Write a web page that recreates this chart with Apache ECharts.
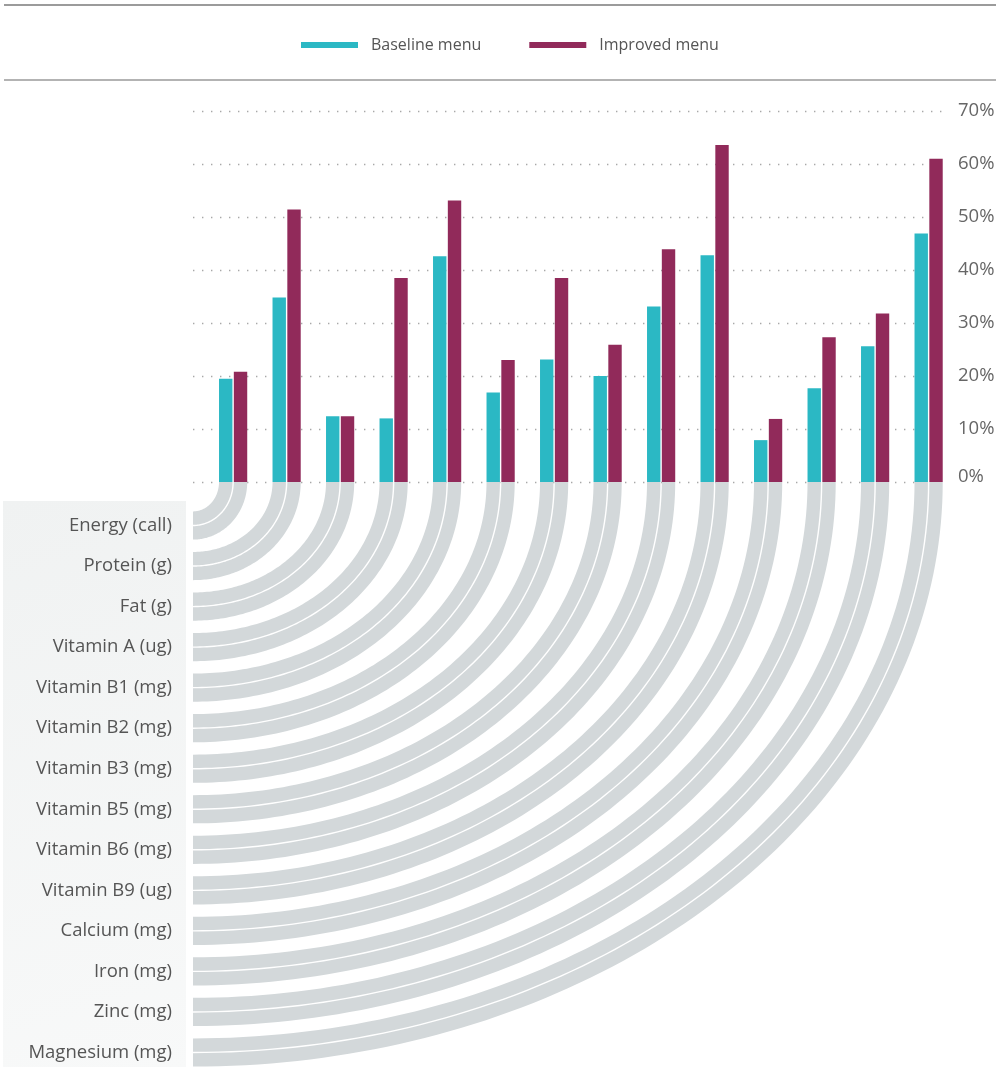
<!DOCTYPE html>
<html>
<head>
<meta charset="utf-8">
<title>Nutrient adequacy: baseline vs improved menu</title>
<script src="https://cdn.jsdelivr.net/npm/echarts@6/dist/echarts.min.js"></script>
<style>
  html, body { margin: 0; padding: 0; background: #ffffff; }
  #chart { width: 1000px; height: 1067px; }
</style>
</head>
<body>
<div id="chart"></div>
<script>
// ---- data -------------------------------------------------------------
const nutrients = [
  'Energy (call)', 'Protein (g)', 'Fat (g)', 'Vitamin A (ug)', 'Vitamin B1 (mg)',
  'Vitamin B2 (mg)', 'Vitamin B3 (mg)', 'Vitamin B5 (mg)', 'Vitamin B6 (mg)',
  'Vitamin B9 (ug)', 'Calcium (mg)', 'Iron (mg)', 'Zinc (mg)', 'Magnesium (mg)'
];
const baselineMenu = [19.5, 34.8, 12.4, 12.0, 42.6, 16.9, 23.1, 20.0, 33.1, 42.8, 7.9, 17.7, 25.6, 46.9];
const improvedMenu = [20.8, 51.4, 12.4, 38.5, 53.1, 23.0, 38.5, 25.9, 43.9, 63.6, 11.9, 27.3, 31.8, 61.0];
const seriesNames = ['Baseline menu', 'Improved menu'];
const percentMin = 0;
const percentMax = 70;
const percentStep = 10;

// ---- style / layout ---------------------------------------------------
const FONT = '"Open Sans", "Noto Sans", sans-serif';
const TEAL = '#2bb8c4';
const PLUM = '#912a5a';
const LINK_GREY = '#d3d8da';
const PLOT_LEFT = 193;
const PLOT_RIGHT = 58;            // distance from right edge of the canvas
const PLOT_TOP = 111;
const PLOT_HEIGHT = 371;
const BAND = (1000 - PLOT_LEFT - PLOT_RIGHT) / nutrients.length;
const BAR_W = 13.4;
const BAR_GAP = 1.4;

const chart = echarts.init(document.getElementById('chart'), null, { renderer: 'canvas' });

const baseOption = {
  animation: false,
  backgroundColor: '#ffffff',
  textStyle: { fontFamily: FONT },
  legend: {
    data: seriesNames,
    left: 296,
    top: 32,
    icon: 'rect',
    itemWidth: 57,
    itemHeight: 6,
    itemGap: 48,
    textStyle: { fontFamily: FONT, fontSize: 16, color: '#555555', padding: [0, 0, 0, 8] }
  },
  graphic: [
    { type: 'line', z: 0, shape: { x1: 4, y1: 5, x2: 996, y2: 5 }, style: { stroke: '#7a7a7a', lineWidth: 1.6 } },
    { type: 'line', z: 0, shape: { x1: 4, y1: 80, x2: 996, y2: 80 }, style: { stroke: '#9a9a9a', lineWidth: 1.6 } },
    {
      type: 'rect', z: -10, silent: true,
      shape: { x: 3, y: 501, width: 183, height: 570 },
      style: {
        fill: new echarts.graphic.LinearGradient(0, 0, 1, 1, [
          { offset: 0, color: '#f0f2f2' },
          { offset: 1, color: '#f8f9f9' }
        ])
      }
    }
  ],
  grid: [
    // frame: percentage scale with dotted guides
    { left: PLOT_LEFT, right: PLOT_RIGHT, top: PLOT_TOP, height: PLOT_HEIGHT },
    // bars: each pair sits in the right half of its column
    { left: PLOT_LEFT + BAND / 4, right: PLOT_RIGHT - BAND / 4, top: PLOT_TOP, height: PLOT_HEIGHT },
    // nutrient rows below the chart
    { left: PLOT_LEFT, right: PLOT_RIGHT, top: 525.5, height: 527 }
  ],
  xAxis: [
    { gridIndex: 0, type: 'value', min: 0, max: 1, show: false },
    { gridIndex: 1, type: 'category', data: nutrients, show: false },
    { gridIndex: 2, type: 'value', min: 0, max: 1, show: false }
  ],
  yAxis: [
    {
      gridIndex: 0, type: 'value', position: 'right',
      min: percentMin, max: percentMax, interval: percentStep,
      axisLine: { show: false }, axisTick: { show: false },
      splitLine: { show: true, lineStyle: { color: '#a8a8a8', width: 1.4, type: [1.4, 7.6] } },
      axisLabel: {
        margin: 16, fontFamily: FONT, fontSize: 18.5, color: '#666666',
        formatter: v => (v === 0 ? '{zero|0%}' : v + '%'),
        rich: { zero: { fontFamily: FONT, fontSize: 18.5, color: '#666666', padding: [0, 0, 10, 0] } }
      }
    },
    { gridIndex: 1, type: 'value', min: percentMin, max: percentMax, interval: percentStep, show: false },
    {
      gridIndex: 2, type: 'category', data: nutrients, inverse: true, boundaryGap: false,
      axisLine: { show: false }, axisTick: { show: false }, splitLine: { show: false },
      axisLabel: { margin: 21, fontFamily: FONT, fontSize: 18.5, color: '#555555' }
    }
  ],
  series: [
    {
      name: seriesNames[0], type: 'bar', xAxisIndex: 1, yAxisIndex: 1,
      data: baselineMenu, barWidth: BAR_W, barGap: (BAR_GAP / BAR_W * 100) + '%',
      itemStyle: { color: TEAL }, z: 3
    },
    {
      name: seriesNames[1], type: 'bar', xAxisIndex: 1, yAxisIndex: 1,
      data: improvedMenu, barWidth: BAR_W,
      itemStyle: { color: PLUM }, z: 3
    }
  ]
};

chart.setOption(baseOption);

// Pixel positions of the nutrient rows and of the plot's left edge,
// taken from the axes once they are laid out.
const rowPixels = nutrients.map(n => chart.convertToPixel({ yAxisIndex: 2 }, n));
const originX = chart.convertToPixel({ xAxisIndex: 0 }, 0);

// Quarter-ellipse ribbons leading from each bar pair down to its row label.
function renderLink(params, api) {
  const i = api.value(0);
  const base = api.coord([i, 0]);
  const cx = base[0];
  const y0 = base[1];
  const x0 = originX;
  const rowY = rowPixels[i];
  const s = BAR_GAP / 2;
  const w = BAR_W;
  // [inner rx, outer rx, inner ry, outer ry]
  const ribbons = [
    [cx - s - w - x0, cx - s - x0, rowY - s - w - y0, rowY - s - y0],
    [cx + s - x0, cx + s + w - x0, rowY + s - y0, rowY + s + w - y0]
  ];
  const N = 90;
  const children = ribbons.map(r => {
    const pts = [];
    for (let k = 0; k <= N; k++) {
      const t = (k / N) * Math.PI / 2;
      pts.push([x0 + r[1] * Math.cos(t), y0 + r[3] * Math.sin(t)]);
    }
    for (let k = N; k >= 0; k--) {
      const t = (k / N) * Math.PI / 2;
      pts.push([x0 + r[0] * Math.cos(t), y0 + r[2] * Math.sin(t)]);
    }
    return { type: 'polygon', shape: { points: pts }, style: { fill: LINK_GREY } };
  });
  return { type: 'group', children: children };
}

chart.setOption({
  series: [
    {}, {},
    {
      name: 'links', type: 'custom', xAxisIndex: 1, yAxisIndex: 1,
      clip: false, silent: true, z: 1,
      data: nutrients.map((n, i) => [i, 0]),
      renderItem: renderLink
    }
  ]
});
</script>
</body>
</html>
